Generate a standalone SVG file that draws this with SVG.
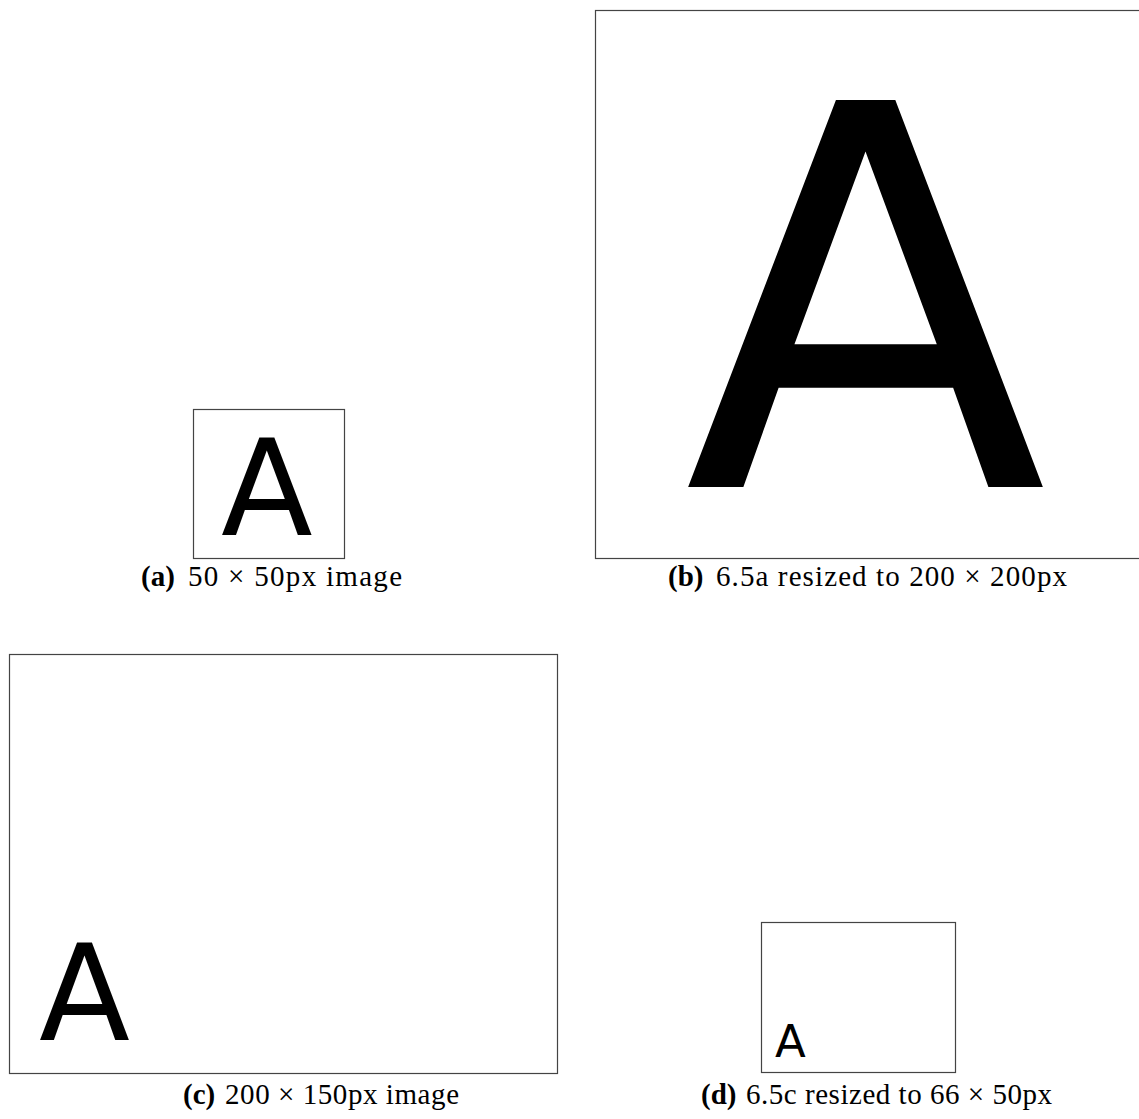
<svg xmlns="http://www.w3.org/2000/svg" width="1139" height="1119" viewBox="0 0 1139 1119">
<style>
.frame{fill:#fff;stroke:#444;stroke-width:1.2}
.glyph{font-family:"DejaVu Sans",sans-serif;fill:#000}
.cap{font-family:"Liberation Serif",serif;font-size:29px;fill:#000}
.b{font-weight:bold}
</style>
<rect width="1139" height="1119" fill="#fff"/>
<g id="panel-a">
<rect class="frame" x="193.5" y="409.5" width="151" height="149"/>
<text class="glyph" x="221" y="535" font-size="134">A</text>
<text class="cap b" x="141" y="586">(a)</text>
<text class="cap" x="188" y="586" textLength="214">50 × 50px image</text>
</g>
<g id="panel-b">
<rect class="frame" x="595.5" y="10.5" width="560" height="548"/>
<text class="glyph" x="684" y="487" font-size="531">A</text>
<text class="cap b" x="668" y="586">(b)</text>
<text class="cap" x="716" y="586" textLength="351">6.5a resized to 200 × 200px</text>
</g>
<g id="panel-c">
<rect class="frame" x="9.5" y="654.5" width="548" height="419"/>
<text class="glyph" x="39" y="1040" font-size="133">A</text>
<text class="cap b" x="183" y="1104">(c)</text>
<text class="cap" x="225" y="1104" textLength="234">200 × 150px image</text>
</g>
<g id="panel-d">
<rect class="frame" x="761.5" y="922.5" width="194" height="150"/>
<text class="glyph" x="775" y="1057" font-size="45">A</text>
<text class="cap b" x="701" y="1104">(d)</text>
<text class="cap" x="746" y="1104" textLength="306">6.5c resized to 66 × 50px</text>
</g>
</svg>
